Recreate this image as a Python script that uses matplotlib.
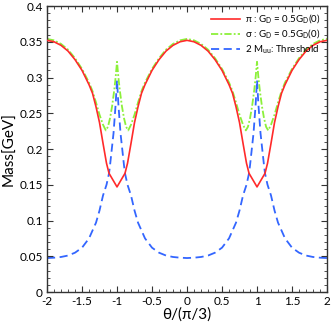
import matplotlib
matplotlib.use("Agg")
import matplotlib.pyplot as plt
from matplotlib.ticker import MultipleLocator

plt.rcParams['font.family'] = ['Lato', 'DejaVu Sans']
plt.rcParams['mathtext.fontset'] = 'custom'
plt.rcParams['mathtext.rm'] = 'Lato'

theta_pi = [-2.0, -1.9, -1.8, -1.7, -1.6, -1.5, -1.4, -1.35, -1.3, -1.25, -1.2, -1.15, -1.114, -1.0,
            -0.886, -0.85, -0.8, -0.75, -0.7, -0.65, -0.6, -0.5, -0.4, -0.3, -0.2, -0.1, 0.0,
            0.1, 0.2, 0.3, 0.4, 0.5, 0.6, 0.65, 0.7, 0.75, 0.8, 0.85, 0.886, 1.0,
            1.114, 1.15, 1.2, 1.25, 1.3, 1.35, 1.4, 1.5, 1.6, 1.7, 1.8, 1.9, 2.0]
mass_pi = [0.352, 0.350, 0.345, 0.337, 0.325, 0.310, 0.290, 0.278, 0.259, 0.237, 0.208, 0.180, 0.166, 0.147,
           0.166, 0.180, 0.208, 0.237, 0.259, 0.278, 0.290, 0.310, 0.325, 0.337, 0.345, 0.350, 0.352,
           0.350, 0.345, 0.337, 0.325, 0.310, 0.290, 0.278, 0.259, 0.237, 0.208, 0.180, 0.166, 0.147,
           0.166, 0.180, 0.208, 0.237, 0.259, 0.278, 0.290, 0.310, 0.325, 0.337, 0.345, 0.350, 0.352]

theta_sigma = [-2.0, -1.9, -1.8, -1.7, -1.6, -1.5, -1.4, -1.35, -1.3, -1.25, -1.2, -1.16, -1.13, -1.1, -1.07, -1.04, -1.02, -1.0,
               -0.98, -0.96, -0.93, -0.9, -0.87, -0.84, -0.8, -0.75, -0.7, -0.65, -0.6, -0.5, -0.4, -0.3, -0.2, -0.1, 0.0,
               0.1, 0.2, 0.3, 0.4, 0.5, 0.6, 0.65, 0.7, 0.75, 0.8, 0.84, 0.87, 0.9, 0.93, 0.96, 0.98, 1.0,
               1.02, 1.04, 1.07, 1.1, 1.13, 1.16, 1.2, 1.25, 1.3, 1.35, 1.4, 1.5, 1.6, 1.7, 1.8, 1.9, 2.0]
mass_sigma = [0.354, 0.352, 0.347, 0.339, 0.327, 0.312, 0.293, 0.281, 0.265, 0.248, 0.234, 0.226, 0.231, 0.243, 0.260, 0.282, 0.300, 0.322,
              0.300, 0.282, 0.260, 0.243, 0.231, 0.226, 0.234, 0.248, 0.265, 0.281, 0.293, 0.312, 0.327, 0.339, 0.347, 0.352, 0.354,
              0.352, 0.347, 0.339, 0.327, 0.312, 0.293, 0.281, 0.265, 0.248, 0.234, 0.226, 0.231, 0.243, 0.260, 0.282, 0.300, 0.322,
              0.300, 0.282, 0.260, 0.243, 0.231, 0.226, 0.234, 0.248, 0.265, 0.281, 0.293, 0.312, 0.327, 0.339, 0.347, 0.352, 0.354]

theta_thr = [-2.0, -1.9, -1.8, -1.7, -1.6, -1.5, -1.4, -1.3, -1.25, -1.2, -1.15, -1.114, -1.1, -1.08, -1.05, -1.02, -1.0,
             -0.98, -0.95, -0.92, -0.9, -0.886, -0.85, -0.8, -0.75, -0.7, -0.6, -0.5, -0.4, -0.3, -0.2, -0.1, 0.0,
             0.1, 0.2, 0.3, 0.4, 0.5, 0.6, 0.7, 0.75, 0.8, 0.85, 0.886, 0.9, 0.92, 0.95, 0.98, 1.0,
             1.02, 1.05, 1.08, 1.1, 1.114, 1.15, 1.2, 1.25, 1.3, 1.4, 1.5, 1.6, 1.7, 1.8, 1.9, 2.0]
mass_thr = [0.0475, 0.048, 0.049, 0.051, 0.055, 0.062, 0.075, 0.097, 0.114, 0.135, 0.150, 0.166, 0.177, 0.195, 0.222, 0.262, 0.296,
            0.262, 0.222, 0.195, 0.177, 0.166, 0.150, 0.135, 0.114, 0.097, 0.075, 0.062, 0.055, 0.051, 0.049, 0.048, 0.0475,
            0.048, 0.049, 0.051, 0.055, 0.062, 0.075, 0.097, 0.114, 0.135, 0.150, 0.166, 0.177, 0.195, 0.222, 0.262, 0.296,
            0.262, 0.222, 0.195, 0.177, 0.166, 0.150, 0.135, 0.114, 0.097, 0.075, 0.062, 0.055, 0.051, 0.049, 0.048, 0.0475]

x_ticks = [-2, -1.5, -1, -0.5, 0, 0.5, 1, 1.5, 2]
x_ticklabels = ['-2', '-1.5', '-1', '-0.5', '0', '0.5', '1', '1.5', '2']
y_ticks = [0, 0.05, 0.1, 0.15, 0.2, 0.25, 0.3, 0.35, 0.4]
y_ticklabels = ['0', '0.05', '0.1', '0.15', '0.2', '0.25', '0.3', '0.35', '0.4']

labels = ["π : G$_{\\rm D}$ = 0.5G$_{\\rm D}$(0)",
          "σ : G$_{\\rm D}$ = 0.5G$_{\\rm D}$(0)",
          "2 M$_{\\rm uu}$: Threshold"]

fig = plt.figure(figsize=(3.32, 3.25), dpi=100)
ax = fig.add_axes([0.1416, 0.1015, 0.8434, 0.88])

ax.plot(theta_pi, mass_pi, color='#ff2a2a', lw=1.2, label=labels[0], zorder=3)
ax.plot(theta_sigma, mass_sigma, color='#8cf03a', lw=1.3, ls=(0, (4, 1.2, 1, 1.2)), label=labels[1], zorder=2)
ax.plot(theta_thr, mass_thr, color='#3366ff', lw=1.3, ls=(0, (4.5, 2.5)), label=labels[2], zorder=1)

ax.set_xlim(-2, 2)
ax.set_ylim(0, 0.4)
ax.xaxis.set_minor_locator(MultipleLocator(0.1))
ax.yaxis.set_minor_locator(MultipleLocator(0.01))
ax.set_xticks(x_ticks)
ax.set_xticklabels(x_ticklabels)
ax.set_yticks(y_ticks)
ax.set_yticklabels(y_ticklabels)
ax.tick_params(which='both', direction='in', top=True, right=True, labelsize=8.5, color='#333333')
ax.tick_params(axis='x', pad=3)
ax.tick_params(axis='y', pad=3)
ax.tick_params(which='major', length=4)
ax.tick_params(which='minor', length=2)
for s in ax.spines.values():
    s.set_color('#333333')
    s.set_linewidth(1.0)

ax.set_xlabel("θ/(π/3)", fontsize=11, labelpad=0)
ax.set_ylabel("Mass[GeV]", fontsize=11, labelpad=2)

ax.legend(loc='upper right', frameon=False, fontsize=7, handlelength=3.0, handletextpad=0.5,
          labelspacing=0.15, borderaxespad=0.3)

fig.savefig("out.png", dpi=100)
